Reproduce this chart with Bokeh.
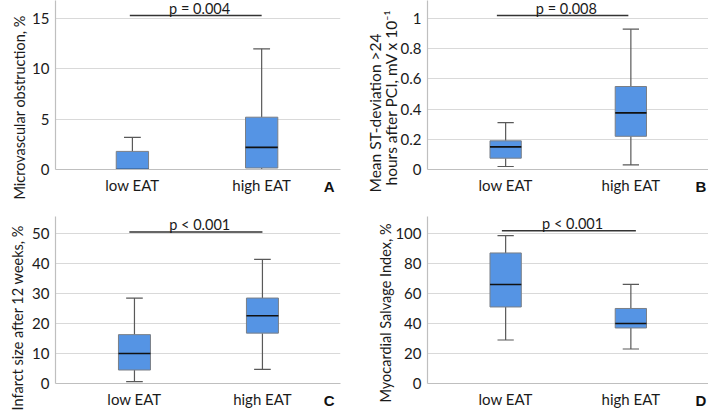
from bokeh.plotting import figure
from bokeh.layouts import gridplot
from bokeh.models import Range1d, FixedTicker, Label, Title, ColumnDataSource
from bokeh.embed import file_html
from bokeh.resources import INLINE

# ---------------- data ----------------
groups = ["low EAT", "high EAT"]
group_x = [1, 2]

# (lower whisker, Q1, median, Q3, upper whisker)
mvo_low = [0.0, 0.0, 0.0, 1.8, 3.2]
mvo_high = [0.0, 0.15, 2.2, 5.2, 12.0]
st_low = [0.02, 0.075, 0.15, 0.19, 0.31]
st_high = [0.03, 0.22, 0.375, 0.55, 0.93]
is_low = [0.6, 4.5, 10.0, 16.3, 28.5]
is_high = [4.7, 16.8, 22.6, 28.5, 41.4]
msi_low = [29.0, 51.0, 66.0, 87.0, 98.5]
msi_high = [23.0, 37.0, 40.0, 50.0, 66.0]

y_labels = [["Microvascular obstruction, %"],
            ["hours after PCI, mV x 10\u207b\u00b9", "Mean ST-deviation >24"],
            ["Infarct size after 12 weeks, %"],
            ["Myocardial Salvage Index, %"]]
y_ticks_A = [0, 5, 10, 15]
y_ticks_B = [0, 0.2, 0.4, 0.6, 0.8, 1.0]
y_tick_labels_B = ["0", "0.2", "0.4", "0.6", "0.8", "1"]
y_ticks_C = [0, 10, 20, 30, 40, 50]
y_ticks_D = [0, 20, 40, 60, 80, 100]
p_texts = ["p = 0.004", "p = 0.008", "p < 0.001", "p < 0.001"]
p_bar_y = [15.3, 1.02, 50.5, 101.8]
p_bar_x0 = [0.98, 0.93, 0.96, 0.97]
p_bar_x1 = [2.0, 1.98, 2.0, 2.04]
panel_letters = ["A", "B", "C", "D"]

FONT = "Lato"
BOX_FILL = "#5594e4"
BOX_LINE = "#7a7f86"
WHISK = "#595959"
GRID = "#d9d9d9"
AXIS = "#bfbfbf"
TXT = "#1a1a1a"
# trailing spacing that nudges the centred panel letter left of the frame end
LETTER_PAD = {"A": "\u2003\u2002", "B": "\u2003", "C": "\u2003\u2002", "D": "\u2003"}


def make_panel(stats, ylab_lines, ylab_size, ylab_offsets, ylab_standoffs,
               yticks, ytick_labels, ymax, w, h, borders, xr,
               ptxt, pby, px0, px1, letter):
    bl, br, bt, bb = borders
    p = figure(width=w, height=h, output_backend="svg", toolbar_location=None,
               x_range=Range1d(*xr), y_range=Range1d(0, ymax),
               min_border_left=bl, min_border_right=br,
               min_border_top=bt, min_border_bottom=bb)
    p.outline_line_color = None
    p.background_fill_color = "white"
    p.border_fill_color = "white"
    p.xgrid.visible = False
    p.ygrid.grid_line_color = GRID
    p.ygrid.grid_line_width = 1

    bw = 0.25
    cw = 0.065
    src = ColumnDataSource(dict(x=group_x,
                                lo=[s[0] for s in stats], q1=[s[1] for s in stats],
                                med=[s[2] for s in stats], q3=[s[3] for s in stats],
                                hi=[s[4] for s in stats],
                                left=[x - bw / 2 for x in group_x],
                                right=[x + bw / 2 for x in group_x],
                                cl=[x - cw for x in group_x],
                                cr=[x + cw for x in group_x]))
    p.segment(x0="x", y0="q3", x1="x", y1="hi", source=src, line_color=WHISK, line_width=1.2)
    p.segment(x0="x", y0="lo", x1="x", y1="q1", source=src, line_color=WHISK, line_width=1.2)
    p.segment(x0="cl", y0="hi", x1="cr", y1="hi", source=src, line_color=WHISK, line_width=1.2)
    p.segment(x0="cl", y0="lo", x1="cr", y1="lo", source=src, line_color=WHISK, line_width=1.2)
    p.quad(left="left", right="right", bottom="q1", top="q3", source=src,
           fill_color=BOX_FILL, line_color=BOX_LINE, line_width=1)
    p.segment(x0="left", y0="med", x1="right", y1="med", source=src,
              line_color="#111111", line_width=1.6)

    # p-value bracket
    p.segment(x0=[px0], y0=[pby], x1=[px1], y1=[pby], line_color="#333333", line_width=1.5)
    p.add_layout(Label(x=(px0 + px1) / 2 + 0.03, y=pby, text=ptxt, text_align="center",
                       text_baseline="bottom", text_font=FONT, text_font_size="14.5px",
                       text_color=TXT, y_offset=-1))

    # axes
    p.xaxis.ticker = FixedTicker(ticks=group_x)
    p.xaxis.major_label_overrides = {x: g for x, g in zip(group_x, groups)}
    p.yaxis.ticker = FixedTicker(ticks=yticks)
    if ytick_labels is not None:
        p.yaxis.major_label_overrides = {t: l for t, l in zip(yticks, ytick_labels)}
    for ax in (p.xaxis[0], p.yaxis[0]):
        ax.major_tick_line_color = None
        ax.minor_tick_line_color = None
        ax.major_tick_out = 0
        ax.major_tick_in = 0
        ax.minor_tick_out = 0
        ax.minor_tick_in = 0
        ax.axis_line_color = AXIS
        ax.axis_line_width = 1.2
        ax.major_label_text_font = FONT
        ax.major_label_text_font_size = "15px"
        ax.major_label_text_color = TXT
    p.xaxis.major_label_standoff = 6
    p.yaxis.major_label_standoff = 6
    p.yaxis.axis_label_standoff = 0

    # panel letter as the x-axis title, pulled up onto the tick-label row
    p.xaxis.axis_label = letter + LETTER_PAD[letter]
    p.xaxis.axis_label_align = "end"
    p.xaxis.axis_label_standoff = -19
    p.xaxis.axis_label_text_font = "Liberation Sans"
    p.xaxis.axis_label_text_font_style = "bold"
    p.xaxis.axis_label_text_font_size = "15px"
    p.xaxis.axis_label_text_color = "#111111"

    # y-axis titles as side-panel titles (inner line first)
    for line, off, so in zip(ylab_lines, ylab_offsets, ylab_standoffs):
        p.add_layout(Title(text=line, align="left", offset=off, standoff=so,
                           text_font=FONT, text_font_size=ylab_size,
                           text_font_style="normal", text_color=TXT), "left")
    return p


pA = make_panel([mvo_low, mvo_high], y_labels[0], "14.5px", [-30], [4],
                y_ticks_A, None, 16.8, 354, 200, (51, 14, 0, 31), (0.405, 2.61),
                p_texts[0], p_bar_y[0], p_bar_x0[0], p_bar_x1[0], panel_letters[0])
pB = make_panel([st_low, st_high], y_labels[1], "15.5px", [-16, -23], [-4, -4],
                y_ticks_B, y_tick_labels_B, 1.12, 354, 200, (73, 0, 0, 31), (0.376, 2.62),
                p_texts[1], p_bar_y[1], p_bar_x0[1], p_bar_x1[1], panel_letters[1])
pC = make_panel([is_low, is_high], y_labels[2], "14.5px", [-27], [8],
                y_ticks_C, None, 55.7, 354, 213, (55, 14, 15, 30), (0.383, 2.61),
                p_texts[2], p_bar_y[2], p_bar_x0[2], p_bar_x1[2], panel_letters[2])
pD = make_panel([msi_low, msi_high], y_labels[3], "14.5px", [-19], [-3],
                y_ticks_D, None, 111.3, 354, 213, (73, 0, 16, 30), (0.376, 2.62),
                p_texts[3], p_bar_y[3], p_bar_x0[3], p_bar_x1[3], panel_letters[3])

grid = gridplot([[pA, pB], [pC, pD]], toolbar_location=None)

open("out.html", "w").write(file_html(grid, INLINE))
